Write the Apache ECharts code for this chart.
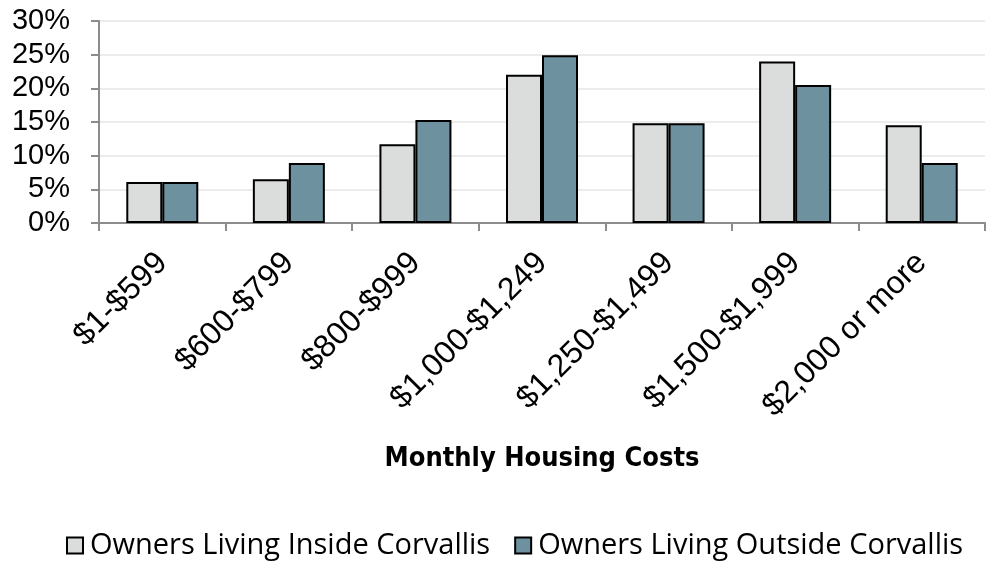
<!DOCTYPE html>
<html>
<head>
<meta charset="utf-8">
<script src="https://cdn.jsdelivr.net/npm/echarts@6/dist/echarts.min.js"></script>
<style>html,body{margin:0;padding:0;background:#fff}#c{width:989px;height:562px}</style>
</head>
<body>
<div id="c"></div>
<script>
const categories = ["$1-$599", "$600-$799", "$800-$999", "$1,000-$1,249", "$1,250-$1,499", "$1,500-$1,999", "$2,000 or more"];
const insideValues = [6.1, 6.5, 11.7, 22.0, 14.8, 24.0, 14.5];
const outsideValues = [6.1, 8.9, 15.3, 24.9, 14.8, 20.5, 8.9];
const seriesNames = ["Owners Living Inside Corvallis", "Owners Living Outside Corvallis"];
const yTicks = { min: 0, max: 30, interval: 5 };
const xTitle = "Monthly Housing Costs";

const chart = echarts.init(document.getElementById('c'));
const axisColor = '#8c8c8c';
chart.setOption({
  animation: false,
  backgroundColor: '#ffffff',
  grid: { left: 99, right: 4, top: 21, bottom: 339, containLabel: false },
  legend: {
    top: 531, left: 66, padding: 0,
    icon: 'rect',
    itemWidth: 16, itemHeight: 16, itemGap: 24,
    textStyle: { fontFamily: 'Open Sans', fontSize: 29, color: '#000', padding: [0,0,0,2] },
    itemStyle: { borderColor: '#000', borderWidth: 2 },
    data: seriesNames
  },
  xAxis: {
    type: 'category',
    data: categories,
    name: xTitle,
    nameLocation: 'middle',
    nameGap: 222,
    nameTextStyle: { fontFamily: 'DejaVu Sans Condensed', fontWeight: 'bold', fontSize: 27, color: '#000' },
    axisLine: { lineStyle: { color: axisColor, width: 2 } },
    axisTick: { show: true, length: 8, lineStyle: { color: axisColor, width: 2 } },
    axisLabel: { interval: 0, rotate: 45, fontFamily: 'Liberation Sans', fontSize: 32, color: '#000', margin: 35 }
  },
  yAxis: {
    type: 'value',
    min: yTicks.min, max: yTicks.max, interval: yTicks.interval,
    axisLine: { show: true, lineStyle: { color: axisColor, width: 2 } },
    axisTick: { show: true, length: 8, lineStyle: { color: axisColor, width: 2 } },
    splitLine: { show: true, lineStyle: { color: '#ececec', width: 2 } },
    axisLabel: { formatter: '{value}%', fontFamily: 'Liberation Sans', fontSize: 29, color: '#000', margin: 29 }
  },
  series: [
    {
      name: seriesNames[0], type: 'bar', data: insideValues,
      barWidth: 36, barGap: '0%',
      itemStyle: { color: '#dbdddc', borderColor: '#000', borderWidth: 2 }
    },
    {
      name: seriesNames[1], type: 'bar', data: outsideValues,
      barWidth: 36, barGap: '0%',
      itemStyle: { color: '#6e91a0', borderColor: '#000', borderWidth: 2 }
    }
  ]
});
</script>
</body>
</html>
